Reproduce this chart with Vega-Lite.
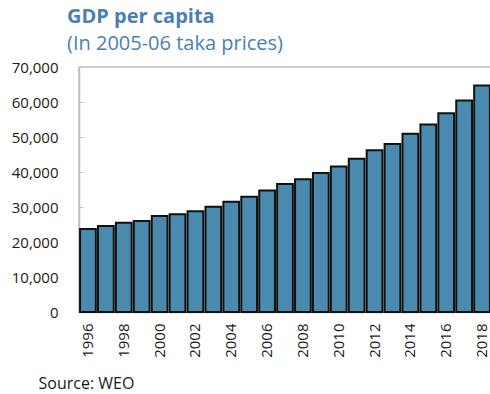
{
  "$schema": "https://vega.github.io/schema/vega-lite/v6.json",
  "width": 412,
  "height": 245,
  "autosize": {"type": "none"},
  "padding": {"left": 79, "top": 67, "right": 0, "bottom": 82},
  "background": "white",
  "title": {
    "text": "GDP per capita",
    "subtitle": "(In 2005-06 taka prices)",
    "anchor": "start",
    "frame": "group",
    "dx": -12,
    "offset": 6,
    "font": "Open Sans",
    "fontSize": 20,
    "fontWeight": "bold",
    "color": "#4A7FB5",
    "subtitleFont": "Open Sans",
    "subtitleFontSize": 20,
    "subtitleColor": "#4A7FB5",
    "subtitlePadding": 7
  },
  "config": {
    "view": {"stroke": "#BFBFBF", "strokeWidth": 1.5},
    "axis": {"labelFont": "Open Sans", "titleFont": "Open Sans", "labelColor": "#1a1a1a", "grid": false}
  },
  "data": {
    "values": [
      {"year": 1996, "gdp": 23700},
      {"year": 1997, "gdp": 24600},
      {"year": 1998, "gdp": 25500},
      {"year": 1999, "gdp": 26000},
      {"year": 2000, "gdp": 27400},
      {"year": 2001, "gdp": 27900},
      {"year": 2002, "gdp": 28800},
      {"year": 2003, "gdp": 30100},
      {"year": 2004, "gdp": 31500},
      {"year": 2005, "gdp": 32900},
      {"year": 2006, "gdp": 34700},
      {"year": 2007, "gdp": 36600},
      {"year": 2008, "gdp": 37900},
      {"year": 2009, "gdp": 39700},
      {"year": 2010, "gdp": 41600},
      {"year": 2011, "gdp": 43800},
      {"year": 2012, "gdp": 46200},
      {"year": 2013, "gdp": 48000},
      {"year": 2014, "gdp": 50900},
      {"year": 2015, "gdp": 53600},
      {"year": 2016, "gdp": 56800},
      {"year": 2017, "gdp": 60400},
      {"year": 2018, "gdp": 64700}
    ]
  },
  "mark": {"type": "bar", "fill": "#4A8AAE", "stroke": "#111111", "strokeWidth": 2},
  "encoding": {
    "x": {
      "field": "year",
      "type": "ordinal",
      "scale": {"paddingInner": 0.12, "paddingOuter": 0.06},
      "axis": {
        "values": [1996, 1998, 2000, 2002, 2004, 2006, 2008, 2010, 2012, 2014, 2016, 2018],
        "labelAngle": -90,
        "labelAlign": "right",
        "labelBaseline": "middle",
        "labelFontSize": 15,
        "labelPadding": 11,
        "ticks": false,
        "domainColor": "#BFBFBF",
        "domainWidth": 1.5,
        "title": "Source: WEO",
        "titleFontSize": 16,
        "titleFontWeight": "normal",
        "titleColor": "#1a1a1a",
        "titleAnchor": "start",
        "titleAlign": "left",
        "titleBaseline": "alphabetic",
        "titleX": -41,
        "titleY": 76
      }
    },
    "y": {
      "field": "gdp",
      "type": "quantitative",
      "scale": {"domain": [0, 70000], "nice": false},
      "axis": {
        "values": [0, 10000, 20000, 30000, 40000, 50000, 60000, 70000],
        "format": ",d",
        "title": null,
        "labelFontSize": 15,
        "labelPadding": 25,
        "tickSize": -4,
        "tickColor": "#BFBFBF",
        "domainColor": "#BFBFBF",
        "domainWidth": 1.5
      }
    }
  }
}
